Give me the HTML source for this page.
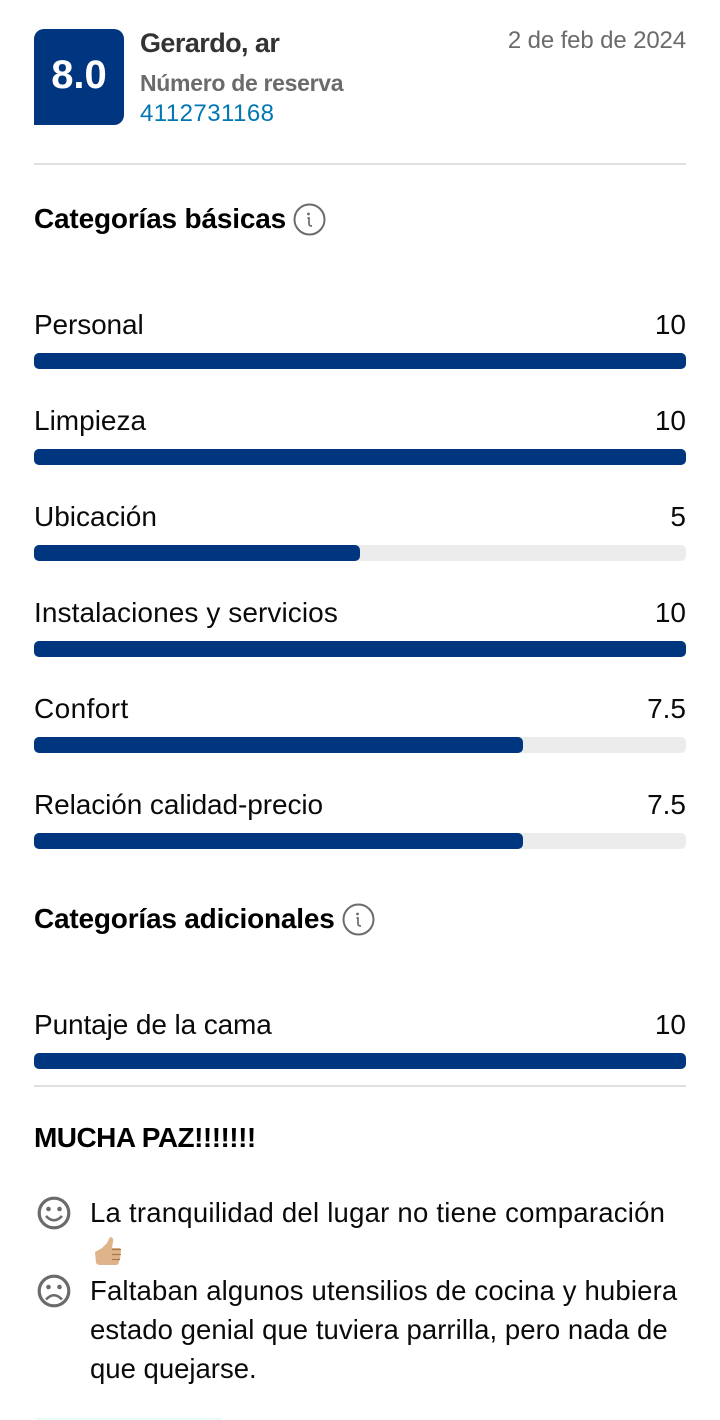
<!DOCTYPE html>
<html lang="es">
<head>
<meta charset="utf-8">
<title>Reseña</title>
<style>
html,body{margin:0;padding:0;background:#fff;}
body{width:720px;height:1420px;position:relative;overflow:hidden;font-family:"Liberation Sans",sans-serif;color:#000;}
.t{position:absolute;white-space:nowrap;line-height:36px;height:36px;}
.r{text-align:right;}
.lab{font-size:28px;left:34px;color:#0a0a0a;}
.val{font-size:28px;right:34px;color:#0a0a0a;}
.h{font-size:28px;font-weight:bold;left:34px;}
.body{font-size:27.5px;left:90px;color:#0a0a0a;}
.track{position:absolute;left:34px;width:652px;height:16px;background:#ececec;border-radius:5px;}
.fill{position:absolute;left:0;top:0;height:16px;background:#003580;border-radius:5px;}
.rule{position:absolute;left:34px;width:652px;height:2px;background:#e0e0e0;}
#basic-rows > :nth-child(1){letter-spacing:-.12px;}
#basic-rows > :nth-child(10){letter-spacing:.08px;}
#basic-rows > :nth-child(13){letter-spacing:.4px;}
#basic-rows > :nth-child(16){letter-spacing:-.09px;}
#extra-rows > :nth-child(1){letter-spacing:-.11px;}
svg{position:absolute;display:block;}
</style>
</head>
<body>
<div style="position:absolute;left:34px;top:29px;width:90px;height:96px;background:#003580;border-radius:10px 10px 10px 0;color:#fff;font-size:40px;font-weight:bold;line-height:92px;text-align:center;">8.0</div>
<div class="t" style="left:140px;top:25px;font-size:27px;font-weight:bold;color:#333;letter-spacing:-.57px;">Gerardo, ar</div>
<div class="t" style="right:34px;top:23px;font-size:24px;color:#6b6b6b;letter-spacing:-.13px;">2 de feb de 2024</div>
<div class="t" style="left:140px;top:65px;font-size:23px;font-weight:bold;color:#6b6b6b;letter-spacing:-.3px;">Número de reserva</div>
<div class="t" style="left:140px;top:96px;font-size:24px;color:#0077b3;letter-spacing:.45px;">4112731168</div>
<div class="rule" style="top:163px;"></div>

<div class="t h" style="top:201px;letter-spacing:-.18px;">Categorías básicas</div>
<svg style="left:293px;top:203px;" width="33" height="33" viewBox="0 0 33 33"><circle cx="16.5" cy="16.5" r="15" fill="none" stroke="#6b6b6b" stroke-width="2"/><circle cx="15.5" cy="11" r="1.4" fill="#6b6b6b"/><path d="M14.500 15h1.500v6q0 2 3 2" fill="none" stroke="#6b6b6b" stroke-width="1.700"/></svg>
<div id="basic-rows"></div>

<div class="t h" style="top:901px;letter-spacing:-.2px;">Categorías adicionales</div>
<svg style="left:342px;top:903px;" width="33" height="33" viewBox="0 0 33 33"><circle cx="16.5" cy="16.5" r="15" fill="none" stroke="#6b6b6b" stroke-width="2"/><circle cx="15.5" cy="11" r="1.4" fill="#6b6b6b"/><path d="M14.500 15h1.500v6q0 2 3 2" fill="none" stroke="#6b6b6b" stroke-width="1.700"/></svg>
<div id="extra-rows"></div>
<div class="rule" style="top:1085px;"></div>

<div class="t h" style="top:1120px;letter-spacing:-.53px;">MUCHA PAZ!!!!!!!</div>

<svg style="left:37px;top:1196px;" width="34" height="34" viewBox="0 0 34 34"><circle cx="17" cy="17" r="14.800" fill="none" stroke="#6b6b6b" stroke-width="3.200"/><circle cx="11.500" cy="13" r="2.300" fill="#6b6b6b"/><circle cx="22.500" cy="13" r="2.300" fill="#6b6b6b"/><path d="M9 20q8 8.500 16 0" fill="none" stroke="#6b6b6b" stroke-width="2.600"/></svg>
<div class="t body" style="top:1195px;letter-spacing:.24px;">La tranquilidad del lugar no tiene comparación</div>
<svg style="left:93px;top:1236px;" width="30" height="32" viewBox="0 0 30 32"><path d="M2 16q4-2 7-4l5-5 3-6q4 0 3 5l-1 6h8q2 4 0 6q1 5-1 7q0 4-3 4H8q-4 0-5-2z" fill="#e0b48a"/><path d="M19 13.500h9M19 18.500h9M19 23.500h8" stroke="#a8794f" stroke-width="1.200" fill="none"/></svg>
<svg style="left:37px;top:1274px;" width="34" height="34" viewBox="0 0 34 34"><circle cx="17" cy="17" r="14.800" fill="none" stroke="#6b6b6b" stroke-width="3.200"/><circle cx="11.500" cy="13" r="2.300" fill="#6b6b6b"/><circle cx="22.500" cy="13" r="2.300" fill="#6b6b6b"/><path d="M9 25.500q8-8.500 16 0" fill="none" stroke="#6b6b6b" stroke-width="2.600"/></svg>
<div class="t body" style="top:1273px;letter-spacing:.17px;">Faltaban algunos utensilios de cocina y hubiera</div>
<div class="t body" style="top:1312px;letter-spacing:.06px;">estado genial que tuviera parrilla, pero nada de</div>
<div class="t body" style="top:1351px;">que quejarse.</div>
<div style="position:absolute;left:36px;top:1418px;width:186px;height:2px;background:#e8fbfb;"></div>

<script>
const basicCategories = ["Personal", "Limpieza", "Ubicación", "Instalaciones y servicios", "Confort", "Relación calidad-precio"];
const basicScores = [10, 10, 5, 10, 7.5, 7.5];
const extraCategories = ["Puntaje de la cama"];
const extraScores = [10];
const scoreMax = 10;

function scoreWidth(v) { return 652 * v / scoreMax; }

function drawRows(parentId, categories, scores, firstBarTop) {
  const parent = document.getElementById(parentId);
  categories.forEach(function (name, i) {
    const top = firstBarTop + i * 96;

    const lab = document.createElement('div');
    lab.className = 't lab';
    
    
    lab.style.top = (top - 46) + 'px';
    lab.textContent = name;
    parent.appendChild(lab);

    const val = document.createElement('div');
    val.className = 't val r';
    
    
    val.style.top = (top - 46) + 'px';
    val.textContent = String(scores[i]);
    parent.appendChild(val);

    const track = document.createElement('div');
    track.className = 'track';
    
    
    track.style.top = top + 'px';

    const fill = document.createElement('div');
    fill.className = 'fill';
    
    
    fill.style.width = scoreWidth(scores[i]) + 'px';
    track.appendChild(fill);
    parent.appendChild(track);
  });
}

drawRows('basic-rows', basicCategories, basicScores, 353);
drawRows('extra-rows', extraCategories, extraScores, 1053);
</script>
</body>
</html>
